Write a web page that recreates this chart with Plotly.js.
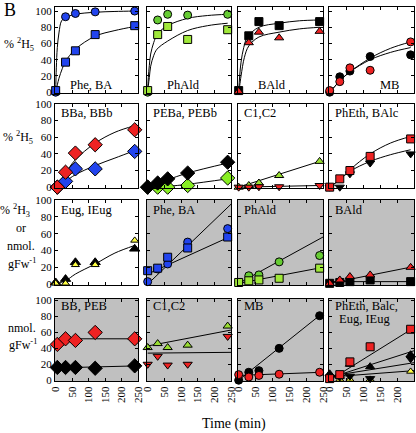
<!DOCTYPE html>
<html><head><meta charset="utf-8">
<script src="https://cdn.plot.ly/plotly-3.0.1.min.js"></script>
<style>html,body{margin:0;padding:0;background:#fff}#chart{width:416px;height:433px}</style>
</head><body><div id="chart"></div>
<script>
// ---------- data ----------
const times   = [0, 30, 60, 120, 240];
const timesBB = [5, 30, 60, 120, 240];
const xTicks = [0, 50, 100, 150, 200, 250];
const yTicks = [0, 20, 40, 60, 80, 100];

// Row 1 (% 2H5)
const pheBA_circle = [0, 93, 97, 99, 100];
const pheBA_square = [2, 37, 51, 71, 82];
const pheBA_fitUpT = [0, 2, 5, 10, 18, 30, 60, 120, 180, 240];
const pheBA_fitUpY = [0, 30, 55, 73, 88, 92, 96, 98.5, 99.5, 100];
const pheBA_fitLoT = [0, 5, 10, 20, 30, 60, 120, 180, 240];
const pheBA_fitLoY = [0, 9, 17, 29, 38, 53, 69, 76, 81];

const phAld_circle = [0, 89, 96, 95, 96];
const phAld_square = [2, 71, 81, 65, 77];
const phAld_fitUpT = [0, 2, 5, 9, 18, 30, 60, 120, 180, 240];
const phAld_fitUpY = [0, 18, 33, 47, 61, 72, 82, 91, 94.5, 96];
const phAld_fitLoT = [0, 2, 5, 9, 18, 28, 60, 120, 180, 240];
const phAld_fitLoY = [0, 8, 18, 32, 45, 53, 63, 76, 82, 85];

const bAld_square   = [2, 69.5, 87, 82, 87];
const bAld_triangle = [1, 61, 74, 67, 75];
const bAld_fitUpT = [0, 3, 7, 15, 26, 60, 120, 180, 240];
const bAld_fitUpY = [0, 20, 37, 55, 68, 80, 85, 88, 89];
const bAld_fitLoT = [0, 3, 7, 17, 30, 60, 120, 180, 240];
const bAld_fitLoY = [0, 8, 20, 43, 57, 68, 74, 78, 80];

const mb_black = [0, 19, 26, 44, 46];
const mb_red   = [2, 13, 30, 27, 62];
const mb_fitT   = [0, 15, 30, 60, 120, 180, 240];
const mb_fitUpY = [0, 7, 14, 25, 42, 54, 62];
const mb_fitLoY = [0, 7, 14, 25, 40, 49, 55];

// Row 2 (% 2H5)
const bb_red  = [0, 18, 41, 51, 69];
const bb_blue = [0, 7, 22, 22, 43];
const bb_fitT   = [5, 30, 60, 120, 180, 240];
const bb_fitUpY = [0, 17, 33, 53, 66, 74];
const bb_fitLoY = [0, 7, 15, 26, 35, 44];

const peb_black = [0, 5, 10, 17, 30];
const peb_green = [0, 0, 0, 2, 11];
const peb_fitBlackT = [0, 30, 60, 120, 240];
const peb_fitBlackY = [0, 5, 9, 17, 29];
const peb_fitGreenT = [0, 60, 120, 240];
const peb_fitGreenY = [0, 1, 3.5, 10];

const c12_green = [0, 2, 5, 14, 31];
const c12_red   = [0, 0, 0.5, 0.5, 2];
const c12_fitT = [0, 240];
const c12_fitGreenY = [0, 31];
const c12_fitRedY   = [0, 2];

const phEth_red   = [0, 10, 20, 37, 58];
const bAlc_black  = [0, 0, 16, 29, 40];
const phEth_fitT  = [0, 30, 60, 120, 180, 240];
const phEth_fitY  = [0, 9, 21, 40, 53, 61];
const bAlc_fitY   = [0, 9, 19, 31, 39, 45];

// Row 3 (% 2H3 or nmol gFw-1)
const eug_black  = [2, 6, 26, 26, 42];
const eug_yellow = [1, 1, 23, 23, 52];
const eug_fitT = [0, 30, 60, 120, 180, 240];
const eug_fitY = [0, 4, 12, 24, 37, 46];

const pheBA2_square = [16, 19, 32, 43, 56];
const pheBA2_circle = [3, 18, 24, 50, 66];
const line2T = [0, 250];
const pheBA2_lineCircleY = [0, 95];
const pheBA2_lineSquareY = [12, 57];

const phAld2_square = [2, 4, 5, 7, 19];
const phAld2_circle = [2, 10, 11, 26.5, 34];
const phAld2_lineCircleY = [1, 56];
const phAld2_lineSquareY = [1, 20];

const bAld2_triangle = [1, 5, 9, 11, 20];
const bAld2_square   = [1, 2, 3, 5, 3];
const bAld2_lineTriY = [1, 21];
const bAld2_lineSqY  = [3, 3];

// Row 4 (nmol gFw-1)
const bbpeb_red   = [45, 52, 50, 60, 52];
const bbpeb_black = [16, 16, 16, 15, 18];
const bbpeb_lineT = [5, 250];
const bbpeb_lineRedY   = [52, 52];
const bbpeb_lineBlackY = [15.5, 18];

const c12b_green = [41, 46, 41, 44, 68];
const c12b_red   = [20, 30, 19, 20, 55];
const c12b_lineGreenY = [43, 63];
const c12b_lineRedY   = [34, 35];

const mb2_black = [0, 10, 12, 40, 81];
const mb2_red   = [7, 4, 6, 7.5, 10];
const mb2_lineBlackT = [0, 245];
const mb2_lineBlackY = [0, 83];
const mb2_lineRedY   = [6, 10];

const mix_red       = [2, 7, 23, 42, 64];
const mix_blackUp   = [8, 5, 20, 17, 32];
const mix_blackDown = [3, 4, 5, 2, 27];
const mix_yellow    = [0, 1, 1, 1, 11];
const mix_lineRedY   = [0, 66];
const mix_lineBlk1Y  = [3, 37];
const mix_lineBlk2Y  = [5, 22];
const mix_lineYelY   = [4, 12];

const panelLabels = [
  ['Phe, BA', 'PhAld', 'BAld', 'MB'],
  ['BBa, BBb', 'PEBa, PEBb', 'C1,C2', 'PhEth, BAlc'],
  ['Eug, IEug', 'Phe, BA', 'PhAld', 'BAld'],
  ['BB, PEB', 'C1,C2', 'MB', 'PhEth, Balc,']
];

// ---------- layout geometry ----------
const W = 416, H = 433;
const cols = [[55,138],[147,231],[238,323],[329,414]];
const rows = [[7,93],[104,188],[200,285],[299,381]];
const yRanges = [[-1,105],[-1,100],[-1,100],[-1,102]];
const grey = [[0,0,0,0],[0,0,0,0],[0,1,1,1],[1,1,1,1]];
const FONT = 'Liberation Serif';

const BLUE = '#2244ee', RED = '#ee2222', BLACK = '#000000';
const GCIRC = '#66cc33', GSQ = '#a0e83a', LIME = '#88ee22', YEL = '#ffff44', GTRI = '#99dd33';

const px = x => x / W;
const py = y => 1 - y / H;
function axName(r, c){ const k = r*4 + c + 1; return k === 1 ? '' : String(k); }

const layout = {
  width: W, height: H,
  margin: {l:0, r:0, t:0, b:0},
  paper_bgcolor: '#ffffff', plot_bgcolor: 'rgba(0,0,0,0)',
  showlegend: false,
  font: {family: FONT, size: 11, color: '#000'},
  shapes: [], annotations: []
};

for (let r = 0; r < 4; r++) {
  for (let c = 0; c < 4; c++) {
    const n = axName(r, c);
    layout['xaxis' + n] = {
      domain: [px(cols[c][0]), px(cols[c][1])],
      anchor: 'y' + n, range: [-2, 250],
      tickmode: 'array', tickvals: xTicks, ticktext: xTicks.map(String),
      ticks: 'inside', ticklen: 3, tickcolor: '#000',
      showline: true, linecolor: '#000', linewidth: 1, mirror: 'allticks',
      showgrid: false, zeroline: false,
      showticklabels: r === 3, tickangle: -90,
      tickfont: {family: FONT, size: 11, color: '#000'}
    };
    layout['yaxis' + n] = {
      domain: [py(rows[r][1]), py(rows[r][0])],
      anchor: 'x' + n, range: yRanges[r],
      tickmode: 'array', tickvals: yTicks, ticktext: yTicks.map(String),
      ticks: 'inside', ticklen: 3, tickcolor: '#000',
      showline: true, linecolor: '#000', linewidth: 1, mirror: 'allticks',
      showgrid: false, zeroline: false,
      showticklabels: c === 0,
      tickfont: {family: FONT, size: 11, color: '#000'}
    };
    layout.shapes.push({
      type: 'rect', xref: 'x' + n + ' domain', yref: 'y' + n + ' domain',
      x0: 0, x1: 1, y0: 0, y1: 1, layer: 'below',
      fillcolor: grey[r][c] ? '#c0c0c0' : '#ffffff', line: {width: 0}
    });
  }
}

const traces = [];
function ax(r, c){ const n = axName(r, c); return {xaxis: 'x' + n, yaxis: 'y' + n}; }
function fit(r, c, x, y, spline) {
  traces.push(Object.assign({type: 'scatter', mode: 'lines', x: x, y: y,
    line: {color: '#000', width: 1, shape: spline ? 'spline' : 'linear', smoothing: 1},
    hoverinfo: 'skip'}, ax(r, c)));
}
function pts(r, c, x, y, symbol, color, size) {
  traces.push(Object.assign({type: 'scatter', mode: 'markers', x: x, y: y, cliponaxis: false,
    marker: {symbol: symbol, color: color, size: size, line: {color: '#000', width: 1}}}, ax(r, c)));
}

// Row 1
fit(0,0,pheBA_fitUpT,pheBA_fitUpY,true); fit(0,0,pheBA_fitLoT,pheBA_fitLoY,true);
pts(0,0,times,pheBA_circle,'circle',BLUE,8); pts(0,0,times,pheBA_square,'square',BLUE,8);
fit(0,1,phAld_fitUpT,phAld_fitUpY,true); fit(0,1,phAld_fitLoT,phAld_fitLoY,true);
pts(0,1,times,phAld_circle,'circle',GCIRC,8); pts(0,1,times,phAld_square,'square',GSQ,8);
fit(0,2,bAld_fitUpT,bAld_fitUpY,true); fit(0,2,bAld_fitLoT,bAld_fitLoY,true);
pts(0,2,times,bAld_square,'square',BLACK,8); pts(0,2,times,bAld_triangle,'triangle-up',RED,8);
fit(0,3,mb_fitT,mb_fitUpY,true); fit(0,3,mb_fitT,mb_fitLoY,true);
pts(0,3,times,mb_black,'circle',BLACK,8); pts(0,3,times,mb_red,'circle',RED,8);
// Row 2
fit(1,0,bb_fitT,bb_fitUpY,true); fit(1,0,bb_fitT,bb_fitLoY,true);
pts(1,0,timesBB,bb_blue,'diamond',BLUE,11); pts(1,0,timesBB,bb_red,'diamond',RED,11);
fit(1,1,peb_fitBlackT,peb_fitBlackY,true); fit(1,1,peb_fitGreenT,peb_fitGreenY,true);
pts(1,1,times,peb_green,'diamond',LIME,11); pts(1,1,times,peb_black,'diamond',BLACK,11);
fit(1,2,c12_fitT,c12_fitGreenY,false); fit(1,2,c12_fitT,c12_fitRedY,false);
pts(1,2,times,c12_green,'triangle-up',GTRI,8); pts(1,2,times,c12_red,'triangle-down',RED,8);
fit(1,3,phEth_fitT,phEth_fitY,true); fit(1,3,phEth_fitT,bAlc_fitY,true);
pts(1,3,times,bAlc_black,'triangle-down',BLACK,8); pts(1,3,times,phEth_red,'square',RED,8);
// Row 3
fit(2,0,eug_fitT,eug_fitY,true);
pts(2,0,times,eug_black,'triangle-up',BLACK,9); pts(2,0,times,eug_yellow,'triangle-up',YEL,7);
fit(2,1,line2T,pheBA2_lineCircleY,false); fit(2,1,line2T,pheBA2_lineSquareY,false);
pts(2,1,times,pheBA2_circle,'circle',BLUE,8); pts(2,1,times,pheBA2_square,'square',BLUE,8);
fit(2,2,line2T,phAld2_lineCircleY,false); fit(2,2,line2T,phAld2_lineSquareY,false);
pts(2,2,times,phAld2_circle,'circle',GCIRC,8); pts(2,2,times,phAld2_square,'square',GSQ,8);
fit(2,3,line2T,bAld2_lineTriY,false); fit(2,3,line2T,bAld2_lineSqY,false);
pts(2,3,times,bAld2_square,'square',BLACK,8); pts(2,3,times,bAld2_triangle,'triangle-up',RED,8);
// Row 4
fit(3,0,bbpeb_lineT,bbpeb_lineRedY,false); fit(3,0,bbpeb_lineT,bbpeb_lineBlackY,false);
pts(3,0,timesBB,bbpeb_red,'diamond',RED,11); pts(3,0,timesBB,bbpeb_black,'diamond',BLACK,11);
fit(3,1,line2T,c12b_lineGreenY,false); fit(3,1,line2T,c12b_lineRedY,false);
pts(3,1,times,c12b_green,'triangle-up',GTRI,8); pts(3,1,times,c12b_red,'triangle-down',RED,8);
fit(3,2,mb2_lineBlackT,mb2_lineBlackY,false); fit(3,2,line2T,mb2_lineRedY,false);
pts(3,2,times,mb2_black,'circle',BLACK,8); pts(3,2,times,mb2_red,'circle',RED,8);
fit(3,3,line2T,mix_lineRedY,false); fit(3,3,line2T,mix_lineBlk1Y,false);
fit(3,3,line2T,mix_lineBlk2Y,false); fit(3,3,line2T,mix_lineYelY,false);
pts(3,3,times,mix_yellow,'triangle-up',YEL,7);
pts(3,3,times,mix_blackUp,'triangle-up',BLACK,8);
pts(3,3,times,mix_blackDown,'triangle-down',BLACK,8);
pts(3,3,times,mix_red,'square',RED,8);

// ---------- annotations ----------
function ann(text, x, y, size, xanchor) {
  layout.annotations.push({text: text, xref: 'paper', yref: 'paper', x: px(x), y: py(y),
    xanchor: xanchor || 'center', yanchor: 'middle', showarrow: false,
    font: {family: FONT, size: size, color: '#000'}});
}
// row 1 labels at bottom centre
ann(panelLabels[0][0], 91, 85, 12.5); ann(panelLabels[0][1], 183, 85, 12.5);
ann(panelLabels[0][2], 272, 85, 12.5); ann(panelLabels[0][3], 389, 85, 12.5);
// other rows top-left
const labelY = [0, 113, 210, 306];
for (let r = 1; r < 4; r++) for (let c = 0; c < 4; c++)
  ann(panelLabels[r][c], cols[c][0] + 4, labelY[r], 12.5, 'left');
ann('Eug, IEug', 337, 319, 12.5, 'left');

// y-axis labels
ann('% <sup>2</sup>H<sub>5</sub>', 19, 45, 12);
ann('% <sup>2</sup>H<sub>5</sub>', 18, 138, 12);
ann('% <sup>2</sup>H<sub>3</sub>', 15, 210, 12);
ann('or', 21, 228, 12);
ann('nmol.', 21, 246, 12);
ann('gFw<sup>-1</sup>', 22, 263, 12);
ann('nmol.', 22, 328, 12);
ann('gFw<sup>-1</sup>', 23, 344, 12);

ann('Time (min)', 234, 424, 14);
ann('B', 10, 10, 18);

Plotly.newPlot('chart', traces, layout, {staticPlot: true, displayModeBar: false});
</script></body></html>
